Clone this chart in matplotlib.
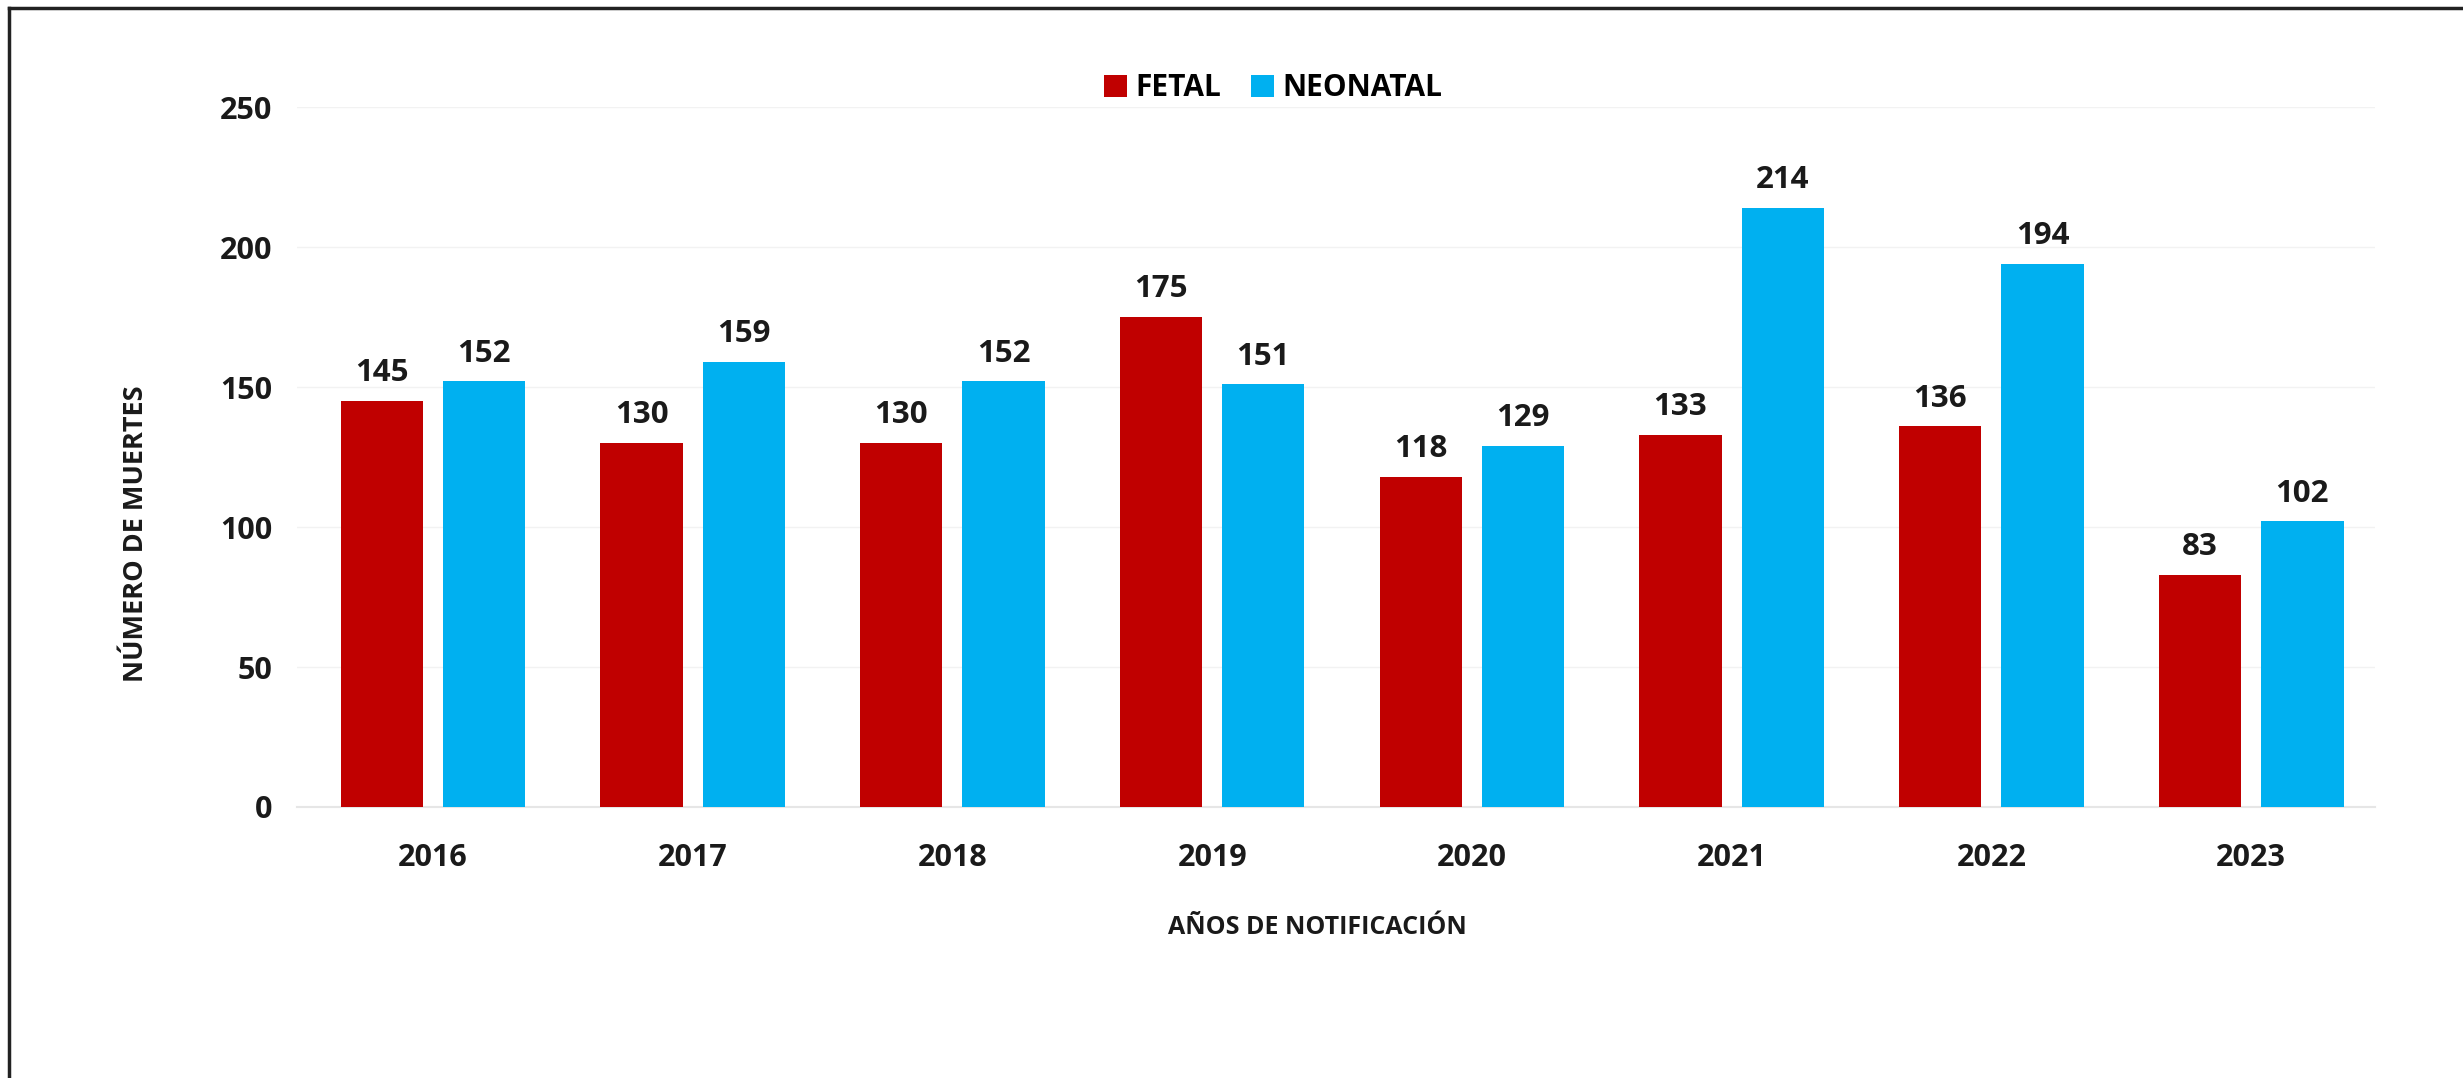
import numpy as np
import matplotlib
matplotlib.use('Agg')
from matplotlib import pyplot as plt
from matplotlib.lines import Line2D

years = ['2016', '2017', '2018', '2019', '2020', '2021', '2022', '2023']
fetal = [145, 130, 130, 175, 118, 133, 136, 83]
neonatal = [152, 159, 152, 151, 129, 214, 194, 102]

red = '#C00000'
blue = '#00B0F0'

plt.rcParams['font.family'] = ['Open Sans', 'DejaVu Sans']
plt.rcParams['font.weight'] = 'bold'

fig = plt.figure(figsize=(24.63, 10.78), dpi=100)
ax = fig.add_axes([0.1206, 0.2514, 0.8437, 0.6493])

x = np.arange(len(years))
w = 0.317
off = 0.197
b1 = ax.bar(x - off, fetal, w, color=red, label='FETAL', zorder=3)
b2 = ax.bar(x + off, neonatal, w, color=blue, label='NEONATAL', zorder=3)

for bars in (b1, b2):
    for b in bars:
        ax.text(b.get_x() + b.get_width() / 2, b.get_height() + 4.5,
                '{}'.format(int(b.get_height())), ha='center', va='bottom',
                fontsize=22.5, fontweight='bold', color='#1a1a1a')

ax.set_xlim(-0.523, len(years) - 0.523)
ax.set_ylim(0, 250)
ax.set_yticks(np.arange(0, 251, 50))
ax.set_xticks(x)
ax.set_xticklabels(years)
ax.tick_params(axis='both', length=0, labelsize=22, colors='#1a1a1a')
ax.tick_params(axis='y', pad=18)
ax.tick_params(axis='x', pad=26)
for lab in ax.get_xticklabels() + ax.get_yticklabels():
    lab.set_fontweight('bold')

ax.grid(axis='y', color='#f2f2f2', linewidth=1, zorder=0)
for s in ['top', 'right', 'left']:
    ax.spines[s].set_visible(False)
ax.spines['bottom'].set_color('#e6e6e6')
ax.spines['bottom'].set_linewidth(1.5)

fig.text(0.0552, 0.505, 'NÚMERO DE MUERTES', rotation=90, ha='center', va='center',
         fontsize=19.5, fontweight='bold', color='#1a1a1a')
fig.text(0.535, 0.14, 'AÑOS DE NOTIFICACIÓN', ha='center', va='center',
         fontsize=18, fontweight='bold', color='#1a1a1a')

leg = fig.legend(handles=[b1, b2], loc='center', bbox_to_anchor=(0.517, 0.918), ncol=2,
                 frameon=False, fontsize=21.5, handlelength=0.75, handleheight=0.75,
                 handletextpad=0.3, columnspacing=1.0)
for t in leg.get_texts():
    t.set_fontweight('bold')

# marco de la imagen (solo arriba e izquierda visibles)
fig.add_artist(Line2D([9 / 2463, 1], [1 - 8 / 1078, 1 - 8 / 1078], color='#222222', linewidth=2.5))
fig.add_artist(Line2D([9 / 2463, 9 / 2463], [0, 1 - 8 / 1078], color='#222222', linewidth=2.5))

fig.savefig('out.png', dpi=100)
